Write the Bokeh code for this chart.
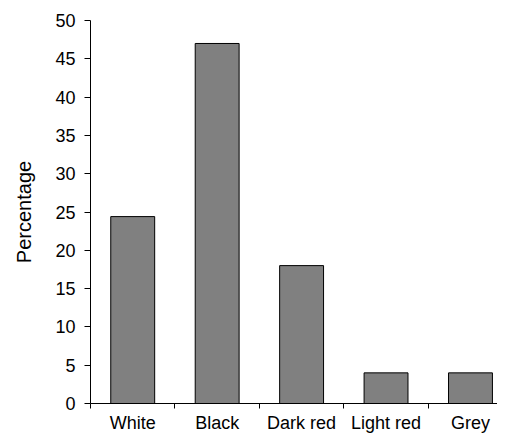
from bokeh.plotting import figure
from bokeh.models import FixedTicker, Range1d, ColumnDataSource
from bokeh.embed import file_html
from bokeh.resources import INLINE

categories = ["White", "Black", "Dark red", "Light red", "Grey"]
values = [24.4, 47.0, 18.0, 4.0, 4.0]
y_ticks = [0, 5, 10, 15, 20, 25, 30, 35, 40, 45, 50]

centers = [i + 0.5 for i in range(len(categories))]
bounds = list(range(len(categories) + 1))

src = ColumnDataSource(dict(x=centers, top=values, name=categories))

p = figure(width=497, height=435, output_backend="svg", toolbar_location=None,
           x_range=Range1d(0, 4.82), y_range=Range1d(0, 50),
           min_border_left=90, min_border_right=0, min_border_top=20, min_border_bottom=28)
p.vbar(x="x", top="top", width=0.52, bottom=0, source=src,
       fill_color="#808080", line_color="black", line_width=1)

p.grid.visible = False
p.outline_line_color = None
p.background_fill_color = "white"
p.border_fill_color = "white"

font = "Liberation Sans"
ya = p.yaxis[0]
ya.ticker = FixedTicker(ticks=y_ticks)
ya.minor_tick_line_color = None
ya.major_tick_out = 6
ya.major_tick_in = 0
ya.major_label_standoff = 9
ya.major_label_text_font = font
ya.major_label_text_font_size = "18px"
ya.major_label_text_color = "black"
ya.axis_line_color = "black"
ya.major_tick_line_color = "black"
ya.axis_label = "Percentage"
ya.axis_label_text_font = font
ya.axis_label_text_font_size = "20px"
ya.axis_label_text_font_style = "normal"
ya.axis_label_text_color = "black"
ya.axis_label_standoff = 17

xa = p.xaxis[0]
xa.ticker = FixedTicker(ticks=centers, minor_ticks=bounds)
xa.major_label_overrides = {c: n for c, n in zip(centers, categories)}
xa.major_tick_out = 0
xa.major_tick_in = 0
xa.minor_tick_out = 5
xa.minor_tick_in = 0
xa.minor_tick_line_color = "black"
xa.major_label_standoff = 4
xa.major_label_text_font = font
xa.major_label_text_font_size = "18px"
xa.major_label_text_color = "black"
xa.axis_line_color = "black"

open("out.html", "w").write(file_html(p, INLINE))
